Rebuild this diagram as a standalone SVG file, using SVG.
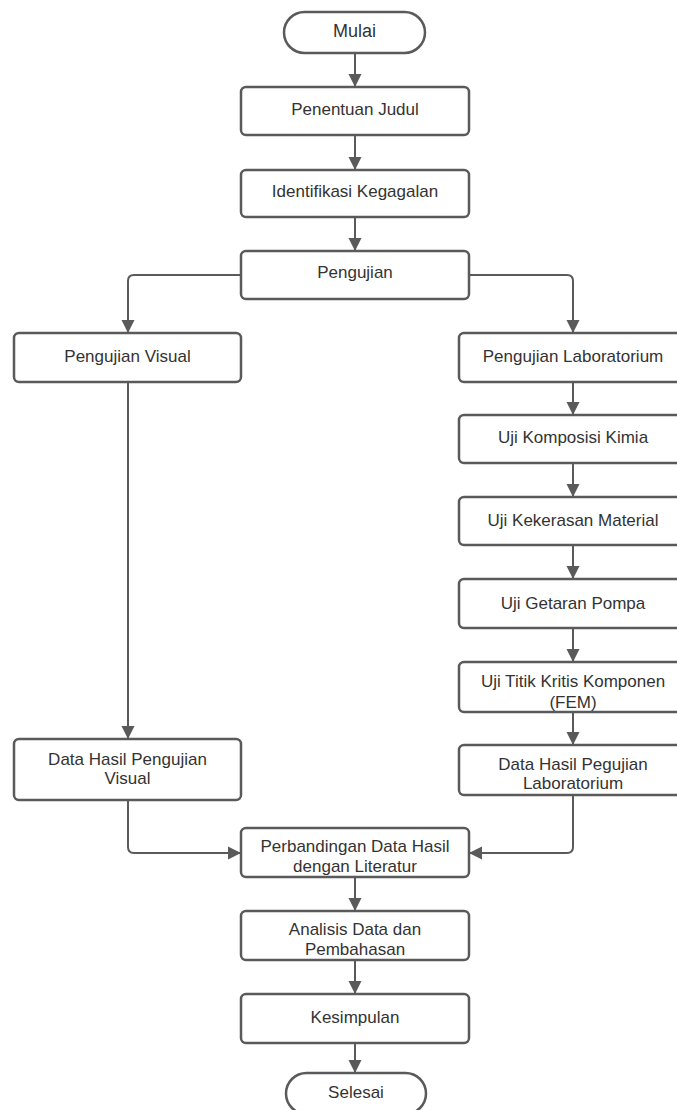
<svg xmlns="http://www.w3.org/2000/svg" width="677" height="1110" viewBox="0 0 677 1110">
<style>
.box{fill:#fff;stroke:#5a5a5a;stroke-width:2.5}
.t{font-family:"Liberation Sans",Arial,sans-serif;font-size:17px;fill:#333;text-anchor:middle}
.c{fill:none;stroke:#5a5a5a;stroke-width:2}
</style>
<defs>
<marker id="ah" markerUnits="userSpaceOnUse" markerWidth="14" markerHeight="14" refX="13" refY="6.5" orient="auto" viewBox="0 0 14 13">
<path d="M0,0 L13,6.5 L0,13 z" fill="#5a5a5a"/>
</marker>
</defs>
<rect width="677" height="1110" fill="#fff"/>
<g id="connectors">
<path class="c" d="M355,53 V87" marker-end="url(#ah)"/>
<path class="c" d="M355,135 V170" marker-end="url(#ah)"/>
<path class="c" d="M355,217 V251" marker-end="url(#ah)"/>
<path class="c" d="M241,275 H134 Q128,275 128,281 V333" marker-end="url(#ah)"/>
<path class="c" d="M469,275 H567 Q573,275 573,281 V333" marker-end="url(#ah)"/>
<path class="c" d="M128,382 V739" marker-end="url(#ah)"/>
<path class="c" d="M573,382 V415" marker-end="url(#ah)"/>
<path class="c" d="M573,463 V497" marker-end="url(#ah)"/>
<path class="c" d="M573,545 V579" marker-end="url(#ah)"/>
<path class="c" d="M573,628 V662" marker-end="url(#ah)"/>
<path class="c" d="M573,712 V745" marker-end="url(#ah)"/>
<path class="c" d="M128,800 V847 Q128,853 134,853 H241" marker-end="url(#ah)"/>
<path class="c" d="M573,795 V847 Q573,853 567,853 H469" marker-end="url(#ah)"/>
<path class="c" d="M355,877 V911" marker-end="url(#ah)"/>
<path class="c" d="M355,960 V994" marker-end="url(#ah)"/>
<path class="c" d="M355,1043 V1073" marker-end="url(#ah)"/>
</g>
<g id="mulai"><rect class="box" x="284" y="12" width="141" height="41" rx="20.5"/><text class="t" x="354.5" y="37" style="font-size:18px">Mulai</text></g>
<g id="penentuan"><rect class="box" x="241" y="87" width="228" height="48" rx="5"/><text class="t" x="355" y="115">Penentuan Judul</text></g>
<g id="identifikasi"><rect class="box" x="241" y="170" width="228" height="47" rx="5"/><text class="t" x="355" y="197">Identifikasi Kegagalan</text></g>
<g id="pengujian"><rect class="box" x="241" y="251" width="228" height="48" rx="5"/><text class="t" x="355" y="278">Pengujian</text></g>
<g id="visual"><rect class="box" x="14" y="333" width="227" height="49" rx="5"/><text class="t" x="127.5" y="362">Pengujian Visual</text></g>
<g id="lab"><rect class="box" x="459" y="333" width="228" height="49" rx="5"/><text class="t" x="573" y="362">Pengujian Laboratorium</text></g>
<g id="komposisi"><rect class="box" x="459" y="415" width="228" height="48" rx="5"/><text class="t" x="573" y="443">Uji Komposisi Kimia</text></g>
<g id="kekerasan"><rect class="box" x="459" y="497" width="228" height="48" rx="5"/><text class="t" x="573" y="526">Uji Kekerasan Material</text></g>
<g id="getaran"><rect class="box" x="459" y="579" width="228" height="49" rx="5"/><text class="t" x="573" y="609">Uji Getaran Pompa</text></g>
<g id="fem"><rect class="box" x="459" y="662" width="228" height="50" rx="5"/><text class="t" x="573" y="687">Uji Titik Kritis Komponen</text><text class="t" x="573" y="708">(FEM)</text></g>
<g id="datalab"><rect class="box" x="459" y="745" width="228" height="50" rx="5"/><text class="t" x="573" y="770">Data Hasil Pegujian</text><text class="t" x="573" y="789">Laboratorium</text></g>
<g id="datavisual"><rect class="box" x="14" y="739" width="227" height="61" rx="5"/><text class="t" x="127.5" y="765">Data Hasil Pengujian</text><text class="t" x="127.5" y="784">Visual</text></g>
<g id="perbandingan"><rect class="box" x="241" y="828" width="228" height="49" rx="5"/><text class="t" x="355" y="852">Perbandingan Data Hasil</text><text class="t" x="355" y="872">dengan Literatur</text></g>
<g id="analisis"><rect class="box" x="241" y="911" width="228" height="49" rx="5"/><text class="t" x="355" y="935">Analisis Data dan</text><text class="t" x="355" y="955">Pembahasan</text></g>
<g id="kesimpulan"><rect class="box" x="241" y="994" width="228" height="49" rx="5"/><text class="t" x="355" y="1023">Kesimpulan</text></g>
<g id="selesai"><rect class="box" x="286" y="1073" width="140" height="41" rx="20.5"/><text class="t" x="356" y="1098">Selesai</text></g>
</svg>
